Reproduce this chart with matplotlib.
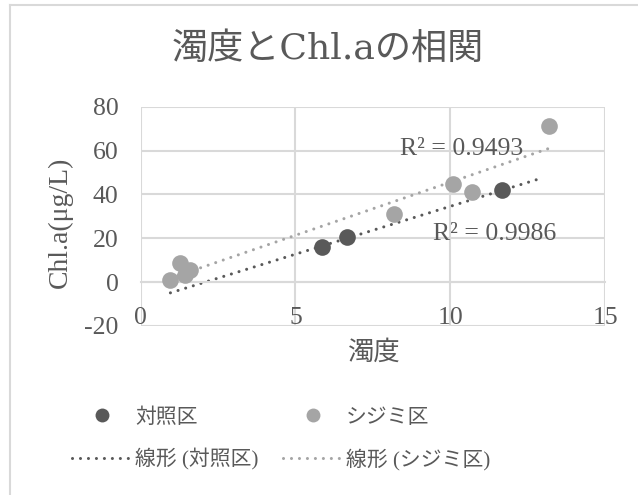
import numpy as np
import matplotlib
matplotlib.use('Agg')
import matplotlib.pyplot as plt
from matplotlib.lines import Line2D

plt.rcParams['font.family'] = ['Liberation Serif', 'Noto Sans CJK JP']
plt.rcParams['axes.unicode_minus'] = False

# 対照区 / シジミ区 : 濁度 vs Chl.a
ctrl_turbidity = [5.86, 6.67, 11.68]
ctrl_chla = [16.0, 20.6, 41.8]
shijimi_turbidity = [0.96, 1.26, 1.42, 1.58, 8.18, 10.08, 10.69, 13.2]
shijimi_chla = [0.9, 8.8, 3.2, 5.5, 30.9, 44.9, 41.0, 71.4]

# trendline extent (incl. forecast) and R² shown on the chart
ctrl_trend_range = [0.96, 13.0]
shijimi_trend_range = [0.96, 13.2]
ctrl_r2 = 0.9986
shijimi_r2 = 0.9493

x_ticks = [0, 5, 10, 15]
y_ticks = [-20, 0, 20, 40, 60, 80]

DARK = '#595959'
LIGHT = '#a5a5a5'
GRID = '#d9d9d9'
DOTTED = (0, (0.01, 2.6))

W, H = 638, 495
fig = plt.figure(figsize=(W / 100, H / 100), dpi=100)
ax = fig.add_axes([140.7 / W, 1 - 326 / H, (605 - 140.7) / W, (326 - 106.7) / H])


def linear_trend(x, y, xr):
    k, b = np.polyfit(x, y, 1)
    xs = np.array(xr)
    return xs, k * xs + b


for x, y, xr, c in [(ctrl_turbidity, ctrl_chla, ctrl_trend_range, DARK),
                    (shijimi_turbidity, shijimi_chla, shijimi_trend_range, LIGHT)]:
    xs, ys = linear_trend(x, y, xr)
    ax.plot(xs, ys, color=c, lw=2.2, ls=DOTTED, dash_capstyle='round', zorder=2)

ax.plot(ctrl_turbidity, ctrl_chla, 'o', ms=12, color=DARK, mec='none', zorder=3)
ax.plot(shijimi_turbidity, shijimi_chla, 'o', ms=12, color=LIGHT, mec='none', zorder=3)

ax.text(10.37, 60.5, f'R² = {shijimi_r2:.4f}', ha='center', va='center', fontsize=18.5, color=DARK)
ax.text(11.44, 21.9, f'R² = {ctrl_r2:.4f}', ha='center', va='center', fontsize=18.5, color=DARK)

ax.set_xlim(0, 15)
ax.set_ylim(-20, 80)
ax.set_xticks(x_ticks)
ax.set_yticks(y_ticks)
ax.grid(True, color=GRID, lw=1.5)
ax.set_axisbelow(True)
for side in ['top', 'right', 'left']:
    ax.spines[side].set_visible(False)
ax.spines['bottom'].set_position(('data', 0))
ax.spines['bottom'].set_color(GRID)
ax.spines['bottom'].set_linewidth(1.5)
ax.tick_params(length=0, labelsize=18.5, labelcolor=DARK)
ax.tick_params(axis='x', pad=18)
ax.tick_params(axis='y', pad=16)

# titles
fig.text(328 / W, 1 - 49 / H, '濁度とChl.aの相関', ha='center', va='center', fontsize=26,
         color=DARK, family=['DejaVu Serif', 'Noto Sans CJK JP'])
fig.text(60 / W, 1 - 222 / H, 'Chl.a(μg/L)', ha='center', va='center', rotation=90,
         fontsize=20, color=DARK)
fig.text(374 / W, 1 - 352 / H, '濁度', ha='center', va='center', fontsize=19, color=DARK)

# chart area border
fig.add_artist(Line2D([9.5 / W, 9.5 / W], [0, 1 - 4.5 / H], transform=fig.transFigure, color=GRID, lw=1.5))
fig.add_artist(Line2D([9.5 / W, 1], [1 - 4.5 / H, 1 - 4.5 / H], transform=fig.transFigure, color=GRID, lw=1.5))

handles = [
    Line2D([], [], marker='o', ls='none', color=DARK, mec='none', ms=10),
    Line2D([], [], color=DARK, lw=2.2, ls=DOTTED, dash_capstyle='round'),
    Line2D([], [], marker='o', ls='none', color=LIGHT, mec='none', ms=10),
    Line2D([], [], color=LIGHT, lw=2.2, ls=DOTTED, dash_capstyle='round'),
]
labels = ['対照区', '線形 (対照区)', 'シジミ区', '線形 (シジミ区)']
fig.legend(handles, labels, ncol=2, loc='upper left', bbox_to_anchor=(72 / W, 1 - 408 / H),
           frameon=False, fontsize=15, handlelength=2.9, handletextpad=0.12,
           columnspacing=1.2, labelspacing=1.0, borderpad=0, borderaxespad=0,
           labelcolor=DARK)

fig.savefig('out.png', dpi=100)
